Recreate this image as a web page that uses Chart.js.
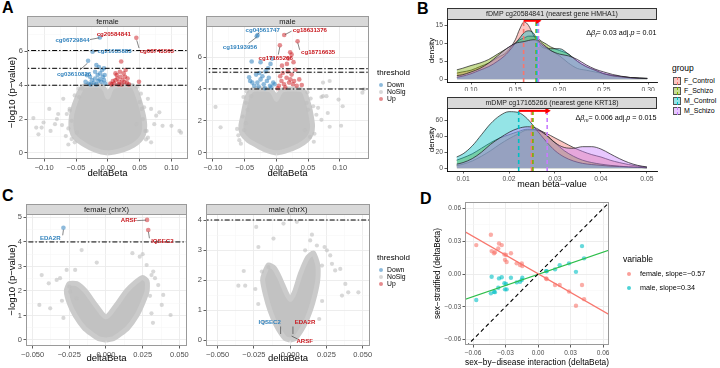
<!DOCTYPE html>
<html><head><meta charset="utf-8">
<script src="https://cdn.jsdelivr.net/npm/chart.js@4.4.1/dist/chart.umd.min.js"></script>
<style>
html,body{margin:0;padding:0;background:#fff;}
body{width:720px;height:368px;position:relative;overflow:hidden;font-family:"Liberation Sans",Arial,Helvetica,sans-serif;color:#000;}
canvas{position:absolute;}
.t{position:absolute;white-space:nowrap;}
.tag{position:absolute;font-weight:bold;font-size:16px;line-height:16px;}
.dot{position:absolute;border-radius:50%;}
.key{position:absolute;box-sizing:border-box;}
</style></head><body>
<div class="tag" style="left:2px;top:0px">A</div>
<div class="tag" style="left:417px;top:1px">B</div>
<div class="tag" style="left:2px;top:188px">C</div>
<div class="tag" style="left:420px;top:191px">D</div>
<canvas id="aF"></canvas><canvas id="aM"></canvas>
<canvas id="bT"></canvas><canvas id="bB"></canvas>
<canvas id="cF"></canvas><canvas id="cM"></canvas>
<canvas id="dS"></canvas>
<script>
// ================= DATA =================
// ---- Panel A, female (genome-wide) ----
const aFemDownX = [-0.0125,-0.024,-0.031,-0.018,-0.014,-0.006,-0.033,-0.028,-0.025,-0.020,-0.016,-0.012,-0.008,-0.006,-0.022,-0.035,-0.010,-0.018,-0.004,-0.013,-0.027,-0.030,-0.005,-0.009,-0.020,-0.015];
const aFemDownY = [6.82,5.98,5.45,5.2,5.08,5.0,4.6,4.5,4.3,4.4,4.6,4.7,4.5,4.3,4.15,4.2,4.2,4.05,4.1,4.35,4.05,4.1,4.6,4.9,4.8,4.25];
const aFemUpX = [0.0448,0.021,0.028,0.049,0.025,0.020,0.015,0.012,0.010,0.018,0.023,0.027,0.030,0.006,0.008,0.014,0.017,0.022,0.026,0.031,0.012,0.019,0.004,0.033];
const aFemUpY = [6.8,5.4,4.9,4.2,4.7,4.5,4.4,4.3,4.1,4.2,4.3,4.5,4.15,4.05,4.25,4.6,4.05,4.05,4.2,4.4,4.7,4.8,4.1,4.05];
const aFemNsX = [-0.092,-0.117,-0.1125,-0.104,-0.101,-0.083,-0.080,-0.078,-0.072,-0.0645,-0.062,-0.057,-0.070,-0.090,-0.109,0.063,0.068,0.076,0.081,0.073,0.086,0.100,0.1125,0.115,0.059,0.060,0.068,0.055,0.053,0.045,-0.057,-0.052,-0.049,-0.060,-0.045,0.050,-0.040,-0.062,-0.066,0.063,0.061,-0.060,0.057,-0.052,0.052,-0.046,0.046];
const aFemNsY = [2.6,2.06,1.5,1.5,1.8,1.7,2.0,2.3,1.65,2.3,1.45,1.9,3.2,1.3,1.1,3.2,2.6,2.2,2.4,1.7,1.6,1.6,1.3,1.2,1.3,0.8,0.63,2.0,2.6,1.7,0.82,0.63,1.2,2.6,3.3,3.0,3.8,0.5,1.0,0.9,1.3,2.5,2.7,3.4,3.5,3.8,3.9];
const aFemCloudX = [0,0.010,0.025,0.040,0.050,0.056,0.058,0.056,0.052,0.048,0.044,0.040,0.030,0.020,0.010,0.004,0,-0.004,-0.010,-0.020,-0.030,-0.038,-0.043,-0.048,-0.053,-0.057,-0.058,-0.055,-0.047,-0.035,-0.022,-0.010,0];
const aFemCloudY = [0,0.05,0.2,0.45,0.75,1.1,1.6,2.2,2.8,3.3,3.7,3.95,4.0,4.0,3.95,3.7,3.3,3.7,3.95,4.0,4.0,3.95,3.7,3.3,2.8,2.2,1.6,1.1,0.75,0.45,0.2,0.05,0];
const aFemCuts = [4, 5.0, 6.05];
// ---- Panel A, male ----
const aMalDownX = [-0.0296,-0.031,-0.039,-0.025,-0.0093,-0.0067,-0.043,-0.0414,-0.035,-0.030,-0.025,-0.020,-0.015,-0.010,-0.005,-0.032,-0.027,-0.022,-0.017,-0.012,-0.008,-0.003,-0.038,-0.018,-0.028,-0.013];
const aMalDownY = [7.38,7.3,5.72,5.68,5.57,5.9,4.73,4.5,4.2,4.4,4.6,4.3,4.5,4.2,4.4,4.9,5.0,4.8,5.1,4.7,4.1,4.3,4.4,4.05,4.15,5.3];
const aMalUpX = [0.0123,0.0334,0.0055,0.0217,0.024,0.019,0.0166,0.027,0.0088,0.004,0.008,0.012,0.016,0.020,0.024,0.028,0.032,0.002,0.006,0.010,0.014,0.018,0.022,0.026,0.040,0.036,0.030];
const aMalUpY = [7.38,6.99,6.74,6.3,6.15,5.9,5.57,5.68,5.46,4.2,4.5,4.3,4.7,4.4,4.9,4.5,4.2,4.05,4.8,5.0,4.1,5.1,4.6,4.3,4.25,4.6,5.2];
const aMalNsX = [-0.096,-0.088,-0.0585,-0.056,-0.051,-0.048,-0.053,-0.0455,-0.048,-0.040,0.0477,0.050,0.058,0.0657,0.063,0.0735,0.079,0.081,0.071,0.084,0.102,0.1356,0.098,0.045,0.053,0.0735,0.084,0.138,0.1045,0.071,-0.060,-0.062,0.060,0.059,-0.052,0.054,-0.047,0.049];
const aMalNsY = [2.88,1.6,0.8,0.58,1.43,1.86,2.28,2.7,3.13,3.55,3.13,2.7,2.92,2.82,2.39,3.55,3.55,2.5,2.07,1.64,1.7,3.77,3.34,1.43,1.0,4.4,4.5,3.98,2.92,3.5,1.1,1.5,1.2,0.7,3.5,3.4,3.85,3.8];
const aMalCloudX = [0,0.008,0.020,0.035,0.048,0.055,0.057,0.055,0.052,0.048,0.045,0.040,0.030,0.020,0.010,0.004,0,-0.004,-0.010,-0.020,-0.030,-0.038,-0.043,-0.047,-0.050,-0.053,-0.056,-0.054,-0.045,-0.030,-0.018,-0.007,0];
const aMalCloudY = [0,0.05,0.2,0.45,0.8,1.2,1.7,2.3,2.9,3.4,3.75,3.95,4.0,4.0,3.95,3.7,3.35,3.7,3.95,4.0,4.0,3.95,3.75,3.4,2.9,2.3,1.7,1.2,0.8,0.45,0.2,0.05,0];
const aMalCuts = [4, 5.05, 5.27];
// ---- Panel C, female chrX ----
const cFemDownX = [-0.029];
const cFemDownY = [4.58];
const cFemUpX = [0.028,0.0288];
const cFemUpY = [4.9,4.49];
const cFemNsX = [-0.0166,-0.0063,0.018,0.025,0.023,0.0277,0.0322,0.031,-0.021,-0.0268,-0.0336,-0.0313,-0.039,-0.0438,-0.038,-0.0454,-0.025,0.039,0.038,0.044,0.0356,0.0334,0.031,-0.0245,-0.020,-0.030,0.030,-0.029,0.032];
const cFemNsY = [3.67,3.16,3.54,3.5,3.4,3.06,2.79,2.65,2.86,2.86,2.45,2.52,2.31,2.65,1.29,1.43,2.18,1.84,1.43,1.02,2.24,2.52,1.09,1.97,1.7,1.6,1.8,0.9,0.7];
const cFemCloudX = [0,0.005,0.010,0.015,0.021,0.025,0.028,0.028,0.025,0.020,0.014,0.008,0.003,0,-0.003,-0.008,-0.014,-0.020,-0.025,-0.027,-0.025,-0.021,-0.015,-0.010,-0.005,0];
const cFemCloudY = [0,0.05,0.25,0.5,1.0,1.5,2.0,2.4,2.55,2.35,2.0,1.5,1.1,0.95,1.1,1.5,2.0,2.3,2.3,2.0,1.5,1.0,0.5,0.25,0.05,0];
const cFemCuts = [4];
// ---- Panel C, male chrX ----
const cMalNsX = [-0.0234,-0.0219,-0.032,-0.0195,-0.031,-0.0357,-0.024,-0.015,-0.0115,-0.0046,0.015,0.0138,0.0103,0.0184,0.0237,0.0253,0.0276,0.0219,0.0288,0.031,0.0345,0.038,0.040,0.047,0.0357,0.0046,-0.022,0.022,-0.018,0.020];
const cMalNsY = [3.77,3.1,2.3,2.28,1.81,1.81,1.7,2.43,3.38,3.88,3.51,3.32,2.99,3.15,3.1,2.99,2.82,2.48,2.54,2.32,2.37,1.87,1.59,1.59,1.48,3.94,1.2,1.3,0.6,0.7];
const cMalCloudX = [0,0.0035,0.0097,0.014,0.017,0.019,0.019,0.016,0.012,0.007,0.003,0,-0.003,-0.007,-0.011,-0.015,-0.018,-0.019,-0.017,-0.014,-0.0097,-0.0035,0];
const cMalCloudY = [0,0.05,0.5,1.0,1.5,2.0,2.5,2.9,2.75,2.2,1.6,1.35,1.6,2.05,2.4,2.5,2.2,2.0,1.5,1.0,0.5,0.05,0];
const cMalCuts = [4];
// ---- Panel B, densities ----
const groups = ['F_Control','F_Schizo','M_Control','M_Schizo'];
const bTopX = [0.084,0.09,0.10,0.11,0.12,0.13,0.14,0.15,0.155,0.16,0.165,0.17,0.175,0.18,0.185,0.19,0.20,0.21,0.22,0.23,0.24,0.25,0.26,0.27,0.28,0.29,0.299];
const bTopFControl = [1.7,2.0,2.5,3.5,4.5,6.0,7.5,11,14,16,15,12.5,10.5,9,8.5,8,6.5,4.5,3,2.5,2,1.5,1.0,0.7,0.45,0.3,0.2];
const bTopFSchizo  = [2.6,3.0,3.8,4.5,5.5,7.0,8.5,10,11,11.5,12,12,11.5,10.5,9.8,9,8,7,5,3.5,2.5,1.5,1.0,0.7,0.4,0.25,0.2];
const bTopMControl = [0.5,0.8,1.5,2.5,3.5,5,7,10,11.5,13,13.5,13,11,9.5,8.8,8.5,8.5,7,5,3.5,2.5,1.5,0.9,0.6,0.35,0.25,0.2];
const bTopMSchizo  = [1.0,1.2,2,3,4.5,6.5,8.5,10,10.3,10.5,10.8,11,11,10,9,8,7,6.5,5.5,4,2.8,2,1.3,0.8,0.45,0.25,0.15];
const bTopMeans = [0.1594,0.1735,0.1745,0.1762];
const bTopArrow = [0.1594,0.1755,16.3];
const bBotX = [0.0086,0.010,0.012,0.014,0.016,0.018,0.020,0.022,0.024,0.026,0.028,0.030,0.032,0.034,0.036,0.038,0.040,0.042,0.044,0.046,0.048,0.050];
const bBotFControl = [3,5,9,15,22,30,37,43,48,48,44,38,32,26,21,17,14,10,7,4.5,2.5,1.2];
const bBotFSchizo  = [10,13,18,25,32,38,42,46,49,48,42,32,22,15,10,7,5,3.5,2.5,1.5,1,0.5];
const bBotMControl = [14,18,28,42,56,66,71,70,62,48,34,22,14,9,6,4.5,3.5,2.5,2,1.5,1,0.5];
const bBotMSchizo  = [5,7,12,20,30,38,45,50,52,50,42,32,26,25,27,27,24,18,12,7,3.5,1.5];
const bBotMeans = [0.0249,0.0252,0.0221,0.0283];
const bBotArrow = [0.0221,0.0283,72];
// ---- Panel D ----
const dInterX = [-0.057,-0.0435,-0.0428,-0.0406,-0.0398,-0.0367,-0.036,-0.0335,-0.031,-0.0295,-0.0305,-0.029,-0.025,-0.0197,-0.0166,-0.015,-0.0145,0.0074,0.008,0.0157,0.020,0.0286,0.035,0.0406,0.0425];
const dFemaleY = [0.0265,0.036,0.021,0.019,0.020,0.0235,0.028,0.0265,0.018,0.0175,0.013,0.011,0.019,0.0098,0.0082,0.0098,0.0073,-0.004,-0.0046,-0.010,-0.010,-0.016,-0.029,-0.010,-0.023];
const dMaleY   = [-0.0238,-0.0177,-0.0025,-0.0162,-0.0166,-0.0125,-0.004,-0.003,-0.0085,-0.009,-0.014,-0.014,-0.0034,-0.0076,-0.007,-0.0055,-0.0034,0.0027,0.0025,0.0043,0.008,0.0098,0.002,0.0256,0.0144];
const dFitX = [-0.07,0.07];
const dFemaleFitY = [0.0402,-0.0396];
const dMaleFitY = [-0.0241,0.0235];
const dSlopes = ['-0.57','0.34'];
// ---- tick labels ----
const aFemXTicks = [-0.125,-0.1,-0.075,-0.05,-0.025,0,0.025,0.05,0.075,0.1,0.125];
const aMalXTicks = [-0.1,-0.075,-0.05,-0.025,0,0.025,0.05,0.075,0.1,0.125];
const aYTicks = [0,1,2,3,4,5,6,7];
const cXTicks = [-0.05,-0.0375,-0.025,-0.0125,0,0.0125,0.025,0.0375,0.05];
const cFemYTicks = [0,0.5,1,1.5,2,2.5,3,3.5,4,4.5,5];
const cMalYTicks = [0,0.5,1,1.5,2,2.5,3,3.5,4];
const bTopXTicks = [0.10,0.15,0.20,0.25,0.30];
const bTopYTicks = [0,5,10,15];
const bBotXTicks = [0.01,0.02,0.03,0.04,0.05];
const bBotYTicks = [0,20,40,60];
const dTicks = [-0.06,-0.045,-0.03,-0.015,0,0.015,0.03,0.045,0.06];
const thresholdLevels = ['Down','NoSig','Up'];

// ================= STYLE / HELPERS =================
const F = '"Liberation Sans", Arial, Helvetica, sans-serif';
Chart.defaults.font.family = F;
Chart.defaults.animation = false;
Chart.defaults.events = [];
const MINUS = '\u2212';
const BLUE_PT = 'rgba(49,130,189,0.55)', RED_PT = 'rgba(203,24,29,0.5)', NS_PT = 'rgba(190,190,190,0.6)', CLOUD = '#C2C2C2', CLOUD_EDGE = '#CBCBCB';
const BLUE_TXT = '#3182BD', RED_TXT = '#C8181E';
const GC = ['#F8766D','#7CAE00','#00BFC4','#C77CFF'];
function hexA(h, a){ const n = parseInt(h.slice(1),16); return `rgba(${n>>16},${(n>>8)&255},${n&255},${a})`; }
function pts(xs, ys){ return xs.map((x,i)=>({x:x, y:ys[i]})); }
function isMajor(v, m){ const r = v/m; return Math.abs(r-Math.round(r)) < 1e-6; }
const fmtN = d => v => (v < -1e-12 ? MINUS : '') + Math.abs(v).toFixed(d);

function scale(o){
  const maj = o.major;
  const mj = c => c.tick && isMajor(c.tick.value, maj);
  return {
    type:'linear', position:o.pos, bounds:'data', min:o.min, max:o.max,
    afterBuildTicks: s => { s.ticks = o.ticks.map(v => ({value:v})); },
    afterFit: s => { if (o.pos === 'bottom') s.height = o.size; else s.width = o.size; },
    ticks:{ autoSkip:false, maxRotation:0, minRotation:0, padding:o.tickPad ?? 1.5, maxTicksLimit:1000,
      font:{size:o.tickSize}, color:'#4D4D4D', callback: v => isMajor(v, maj) ? o.fmt(v) : '' },
    grid:{ drawOnChartArea:o.grid !== false, drawTicks:true, tickLength:2.5, tickWidth:0.8,
      color: c => mj(c) ? '#EBEBEB' : '#F5F5F5', lineWidth: c => mj(c) ? 0.9 : 0.5,
      tickColor: c => mj(c) ? '#333333' : 'rgba(0,0,0,0)' },
    border:{ display:!!o.axisLine, color:'#000', width:0.9 },
    title: o.title ? {display:true, text:o.title, font:{size:o.titleSize}, color:'#000', padding:{top:0,bottom:0}} : {display:false}
  };
}

function richText(ctx, segs, xRight, yMid, size){
  const fnt = s => (s.it ? 'italic ' : '') + (s.sub ? size*0.72 : size) + 'px ' + F;
  const w = segs.map(s => { ctx.font = fnt(s); return ctx.measureText(s.t).width; });
  let x = xRight - w.reduce((a,b)=>a+b,0);
  ctx.textAlign = 'left'; ctx.textBaseline = 'middle';
  segs.forEach((s,i) => { ctx.font = fnt(s); ctx.fillText(s.t, x, yMid + (s.sub ? size*0.35 : 0)); x += w[i]; });
}

const panelPlugin = {
  id:'panel',
  afterDraw(chart, args, o){
    const {ctx, chartArea:a, scales:{x, y}} = chart;
    ctx.save();
    if (o.border){ ctx.strokeStyle = o.border; ctx.lineWidth = 1; ctx.strokeRect(a.left+0.5, a.top+0.5, a.right-a.left-1, a.bottom-a.top-1); }
    if (o.strip){
      const h = o.stripH;
      ctx.fillStyle = '#D9D9D9'; ctx.fillRect(a.left, a.top-h, a.right-a.left, h);
      ctx.strokeStyle = o.stripBorder; ctx.lineWidth = 1; ctx.strokeRect(a.left+0.5, a.top-h+0.5, a.right-a.left-1, h);
      ctx.fillStyle = '#1A1A1A'; ctx.font = o.stripSize + 'px ' + F; ctx.textAlign = 'center'; ctx.textBaseline = 'middle';
      ctx.fillText(o.strip, (a.left+a.right)/2, a.top - h/2 + 0.5);
    }
    (o.labels || []).forEach(l => {
      if (l.lead){
        ctx.strokeStyle = '#333'; ctx.lineWidth = 0.6; ctx.beginPath();
        ctx.moveTo(x.getPixelForValue(l.lead[0]), y.getPixelForValue(l.lead[1]));
        ctx.lineTo(x.getPixelForValue(l.lead[2]), y.getPixelForValue(l.lead[3])); ctx.stroke();
      }
      ctx.fillStyle = l.color; ctx.font = 'bold ' + (o.labelSize || 6.1) + 'px ' + F; ctx.textAlign = 'center'; ctx.textBaseline = 'middle';
      ctx.fillText(l.text, x.getPixelForValue(l.x), y.getPixelForValue(l.y));
    });
    if (o.rich){ ctx.fillStyle = '#000'; richText(ctx, o.rich.segs, x.getPixelForValue(o.rich.x), y.getPixelForValue(o.rich.y), o.rich.size); }
    ctx.restore();
  }
};
Chart.register(panelPlugin);

function mk(id, box, area, datasets, xs, ys, panel){
  const cv = document.getElementById(id);
  cv.width = box.w; cv.height = box.h; cv.style.left = box.l+'px'; cv.style.top = box.t+'px';
  xs.pos = 'bottom'; xs.size = box.t + box.h - area.b;
  ys.pos = 'left'; ys.size = area.l - box.l;
  return new Chart(cv, {
    type:'line',
    data:{datasets:datasets},
    options:{
      responsive:false, animation:false, devicePixelRatio:1, events:[],
      layout:{padding:{left:0, bottom:0, top:area.t - box.t, right:box.l + box.w - area.r}},
      scales:{x:scale(xs), y:scale(ys)},
      plugins:{legend:{display:false}, tooltip:{enabled:false}, panel:panel}
    }
  });
}
const ptSet = (xs, ys, col, r, ord) => ({type:'line', showLine:false, data:pts(xs,ys), pointRadius:r, pointBackgroundColor:col, pointBorderWidth:0, order:ord});
const hline = (v, xr) => ({type:'line', data:[{x:xr[0],y:v},{x:xr[1],y:v}], borderColor:'#000', borderWidth:1, borderDash:[5,2,1.5,2], pointRadius:0, order:2});
const cloud = (xs, ys) => ({type:'line', data:pts(xs,ys), fill:'shape', backgroundColor:CLOUD, borderColor:CLOUD_EDGE, borderWidth:5, borderJoinStyle:'round', pointRadius:0, tension:0.2, order:50});

function volcano(id, box, area, d, panel){
  const ds = [cloud(d.cx, d.cy), ptSet(d.nx, d.ny, NS_PT, 2.1, 40)];
  if (d.dx) ds.push(ptSet(d.dx, d.dy, BLUE_PT, 2.3, 20));
  if (d.ux) ds.push(ptSet(d.ux, d.uy, RED_PT, 2.3, 21));
  d.cuts.forEach(c => ds.push(hline(c, [d.xr[0]-1, d.xr[1]+1])));
  return mk(id, box, area, ds,
    {min:d.xr[0], max:d.xr[1], ticks:d.xt, major:d.xmaj, fmt:fmtN(d.xdec), tickSize:7.5, title:'deltaBeta', titleSize:9.5},
    {min:d.yr[0], max:d.yr[1], ticks:d.yt, major:d.ymaj, fmt:fmtN(0), tickSize:7.5, title:d.ytitle, titleSize:9.5},
    panel);
}

// ---- Panel A ----
volcano('aF', {l:7,t:0,w:186,h:179}, {l:27,t:26,r:188,b:159},
  {cx:aFemCloudX, cy:aFemCloudY, nx:aFemNsX, ny:aFemNsY, dx:aFemDownX, dy:aFemDownY, ux:aFemUpX, uy:aFemUpY, cuts:aFemCuts,
   xr:[-0.127,0.126], xt:aFemXTicks, xmaj:0.05, xdec:2, yr:[-0.357,7.5], yt:aYTicks, ymaj:2, ytitle:MINUS+'log10 (p'+MINUS+'value)'},
  {border:'#9A9A9A', strip:'female', stripH:10, stripBorder:'#9A9A9A', stripSize:7.5, labels:[
    {text:'cg06729844', x:-0.0555, y:6.66, color:BLUE_TXT, lead:[-0.028,6.7,-0.0135,6.8]},
    {text:'cg20584841', x:0.0094, y:6.98, color:RED_TXT},
    {text:'cg21035883', x:0.0105, y:6.0, color:BLUE_TXT, lead:[-0.0178,6.0,-0.022,5.98]},
    {text:'cg08743303', x:0.077, y:6.0, color:RED_TXT, lead:[0.049,6.2,0.0455,6.65]},
    {text:'cg03610826', x:-0.053, y:4.64, color:BLUE_TXT, lead:[-0.044,4.9,-0.032,5.3]}
  ]});
volcano('aM', {l:190,t:0,w:185,h:179}, {l:206,t:26,r:369,b:159},
  {cx:aMalCloudX, cy:aMalCloudY, nx:aMalNsX, ny:aMalNsY, dx:aMalDownX, dy:aMalDownY, ux:aMalUpX, uy:aMalUpY, cuts:aMalCuts,
   xr:[-0.111,0.146], xt:aMalXTicks, xmaj:0.05, xdec:2, yr:[-0.378,7.94], yt:aYTicks, ymaj:2, ytitle:null},
  {border:'#9A9A9A', strip:'male', stripH:10, stripBorder:'#9A9A9A', stripSize:7.5, labels:[
    {text:'cg04561747', x:-0.0216, y:7.7, color:BLUE_TXT, lead:[-0.027,7.55,-0.0294,7.42]},
    {text:'cg19193956', x:-0.0575, y:6.63, color:BLUE_TXT, lead:[-0.044,6.85,-0.031,7.25]},
    {text:'cg18631376', x:0.0528, y:7.65, color:RED_TXT, lead:[0.024,7.62,0.0135,7.4]},
    {text:'cg18716635', x:0.0658, y:6.27, color:RED_TXT, lead:[0.0367,6.45,0.0336,6.9]},
    {text:'cg17165266', x:-0.0011, y:5.94, color:RED_TXT, lead:[0.003,6.15,0.0055,6.65]}
  ]});

// ---- Panel C ----
volcano('cF', {l:7,t:188,w:186,h:176}, {l:26,t:214,r:187,b:346},
  {cx:cFemCloudX, cy:cFemCloudY, nx:cFemNsX, ny:cFemNsY, dx:cFemDownX, dy:cFemDownY, ux:cFemUpX, uy:cFemUpY, cuts:cFemCuts,
   xr:[-0.0545,0.0552], xt:cXTicks, xmaj:0.025, xdec:3, yr:[-0.245,5.14], yt:cFemYTicks, ymaj:1, ytitle:MINUS+'log10 (p'+MINUS+'value)'},
  {border:'#9A9A9A', strip:'female (chrX)', stripH:10, stripBorder:'#9A9A9A', stripSize:7.5, labels:[
    {text:'EDA2R', x:-0.038, y:4.15, color:BLUE_TXT, lead:[-0.0295,4.27,-0.029,4.5]},
    {text:'ARSF', x:0.0157, y:4.87, color:RED_TXT, lead:[0.0212,4.87,0.0272,4.89]},
    {text:'IQSEC2', x:0.0384, y:4.01, color:RED_TXT, lead:[0.0296,4.15,0.0289,4.42]}
  ]});
volcano('cM', {l:190,t:188,w:185,h:176}, {l:206,t:214,r:370,b:346},
  {cx:cMalCloudX, cy:cMalCloudY, nx:cMalNsX, ny:cMalNsY, cuts:cMalCuts,
   xr:[-0.058,0.055], xt:cXTicks, xmaj:0.025, xdec:3, yr:[-0.2,4.2], yt:cMalYTicks, ymaj:1, ytitle:null},
  {border:'#9A9A9A', strip:'male (chrX)', stripH:10, stripBorder:'#9A9A9A', stripSize:7.5, labels:[
    {text:'IQSEC2', x:-0.0141, y:0.58, color:BLUE_TXT, lead:[-0.0066,0.45,-0.0066,0.2]},
    {text:'EDA2R', x:0.0102, y:0.58, color:RED_TXT, lead:[0.0019,0.45,0.0019,0.2]},
    {text:'ARSF', x:0.0100, y:-0.03, color:RED_TXT, lead:[0.0052,0.03,0.001,0.13]}
  ]});

// ---- Panel B ----
function densityPanel(id, box, area, xs, curves, means, arrow, xr, yr, xt, yt, xtitle, strip, rich){
  const ds = [];
  curves.forEach((c,i) => ds.push({type:'line', data:pts(xs, c), fill:'origin', backgroundColor:hexA(GC[i],0.42),
    borderColor:'#1A1A1A', borderWidth:0.7, pointRadius:0, cubicInterpolationMode:'monotone', order:40-i}));
  means.forEach((m,i) => ds.push({type:'line', data:[{x:m,y:yr[0]},{x:m,y:yr[1]}], borderColor:GC[i], borderWidth:1.6, borderDash:[4,3], pointRadius:0, order:10-i}));
  ds.push({type:'line', data:[{x:arrow[0],y:arrow[2]},{x:arrow[1],y:arrow[2]}], borderColor:'#FF0000', borderWidth:2,
    pointRadius:[0,3.6], pointStyle:'triangle', pointRotation:90, pointBackgroundColor:'#FF0000', pointBorderWidth:0, order:1});
  return mk(id, box, area, ds,
    {min:xr[0], max:xr[1], ticks:xt, major:xt[1]-xt[0], fmt:fmtN(2), tickSize:6.8, title:xtitle, titleSize:9, grid:false, axisLine:true},
    {min:yr[0], max:yr[1], ticks:yt, major:yt[1]-yt[0], fmt:fmtN(0), tickSize:6.8, title:'density', titleSize:8, grid:false, axisLine:true},
    {strip:strip, stripH:11, stripBorder:'#333', stripSize:7, rich:rich});
}
densityPanel('bT', {l:427,t:0,w:236,h:91}, {l:447,t:19,r:657,b:82}, bTopX,
  [bTopFControl,bTopFSchizo,bTopMControl,bTopMSchizo], bTopMeans, bTopArrow,
  [0.0729,0.310], [-0.8,16.8], bTopXTicks, bTopYTicks, null, 'fDMP cg20584841 (nearest gene HMHA1)',
  {x:0.3095, y:13, size:7.2, segs:[{t:'\u0394'},{t:'\u03B2',it:1},{t:'f',it:1,sub:1},{t:'= 0.03 adj.'},{t:'p',it:1},{t:' = 0.01'}]});
densityPanel('bB', {l:427,t:90,w:236,h:100}, {l:447,t:108,r:657,b:171}, bBotX,
  [bBotFControl,bBotFSchizo,bBotMControl,bBotMSchizo], bBotMeans, bBotArrow,
  [0.0065,0.0522], [-3.6,75.6], bBotXTicks, bBotYTicks, 'mean beta'+MINUS+'value', 'mDMP cg17165266 (nearest gene KRT18)',
  {x:0.0521, y:63, size:7.2, segs:[{t:'\u0394'},{t:'\u03B2',it:1},{t:'m',it:1,sub:1},{t:'= 0.006 adj.'},{t:'p',it:1},{t:' = 0.015'}]});

// ---- Panel D ----
(function(){
  const ds = [
    {type:'line', data:[{x:-0.08,y:-0.08},{x:0.08,y:0.08}], borderColor:'#000', borderWidth:1.1, borderDash:[4,3], pointRadius:0, order:1},
    {type:'line', data:pts(dFitX, dFemaleFitY), borderColor:'#F8766D', borderWidth:1.2, pointRadius:0, order:3},
    {type:'line', data:pts(dFitX, dMaleFitY), borderColor:'#2DBE4A', borderWidth:1.2, pointRadius:0, order:4},
    ptSet(dInterX, dFemaleY, 'rgba(248,118,109,0.6)', 2.2, 10),
    ptSet(dInterX, dMaleY, 'rgba(0,191,196,0.6)', 2.2, 11)
  ];
  mk('dS', {l:433,t:190,w:185,h:178}, {l:465,t:202,r:609,b:345}, ds,
    {min:-0.0674, max:0.0655, ticks:dTicks, major:0.03, fmt:fmtN(2), tickSize:6.5, title:'sex'+MINUS+'by'+MINUS+'disease interaction (deltaBeta)', titleSize:8.5},
    {min:-0.065, max:0.066, ticks:dTicks, major:0.03, fmt:fmtN(2), tickSize:6.5, title:'sex'+MINUS+'stratified (deltaBeta)', titleSize:8.2},
    {border:'#9A9A9A'});
})();

// ================= LEGENDS (HTML text) =================
function txt(s, x, cy, size, extra){ const d = document.createElement('div'); d.className='t'; d.textContent = s;
  d.style.left = x+'px'; d.style.top = (cy - size*0.6)+'px'; d.style.fontSize = size+'px'; d.style.lineHeight = (size*1.2)+'px';
  if (extra) Object.assign(d.style, extra); document.body.appendChild(d); return d; }
function dot(cx, cy, r, col){ const d = document.createElement('div'); d.className='dot';
  Object.assign(d.style, {left:(cx-r)+'px', top:(cy-r)+'px', width:(2*r)+'px', height:(2*r)+'px', background:col}); document.body.appendChild(d); }
const thrCols = [BLUE_PT, NS_PT, RED_PT];
[[73,[85,92,99]],[258,[270,277,284]]].forEach(([ty, ys]) => {
  txt('threshold', 377, ty, 8);
  thresholdLevels.forEach((lv,i) => { dot(381, ys[i], 2, thrCols[i]); txt(lv, 387, ys[i], 6.8); });
});
txt('group', 672, 68, 8.5);
groups.forEach((g,i) => {
  const cy = 81 + i*10;
  const k = document.createElement('div'); k.className='key';
  Object.assign(k.style, {left:'673px', top:(cy-4)+'px', width:'8px', height:'8px', background:hexA(GC[i],0.42), border:'0.5px solid #555'});
  document.body.appendChild(k);
  const l = document.createElement('div'); l.className='key';
  Object.assign(l.style, {left:'676.5px', top:(cy-4)+'px', width:'1px', height:'8px', borderLeft:'1.5px dashed '+GC[i]});
  document.body.appendChild(l);
  txt(g, 684, cy, 7);
});
txt('variable', 623, 259, 8.6);
['female','male'].forEach((s,i) => { const cy = 274 + i*14; dot(629, cy, 2.2, i ? 'rgba(0,191,196,0.7)' : 'rgba(248,118,109,0.7)');
  txt(s + ', slope=' + dSlopes[i].replace('-', MINUS), 640, cy, 7.2); });
</script>
</body></html>
